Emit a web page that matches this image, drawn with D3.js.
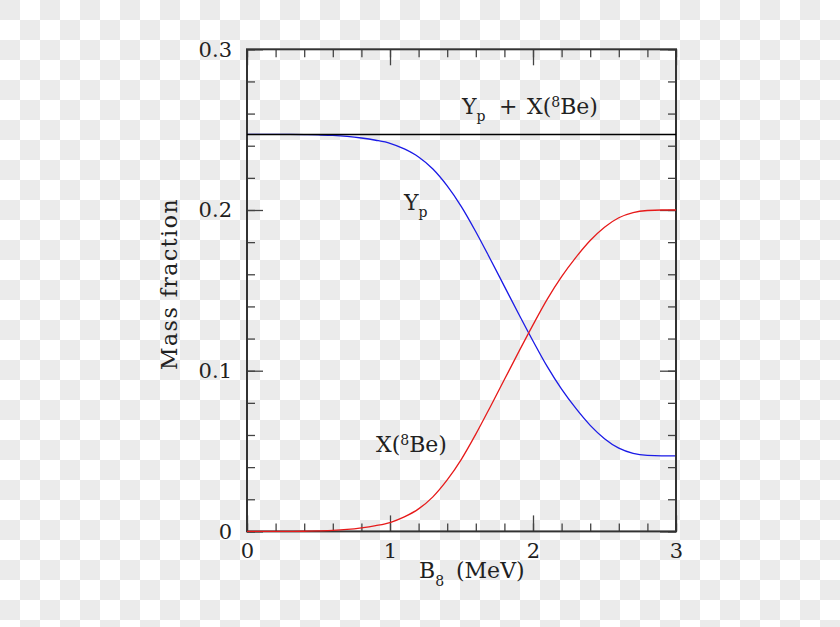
<!DOCTYPE html>
<html>
<head>
  <meta charset="UTF-8">
  <style>
    body {
      margin: 0;
      background-color: #ffffff;
      background-image:
        linear-gradient(45deg, #ebebeb 25%, transparent 25%, transparent 75%, #ebebeb 75%),
        linear-gradient(45deg, #ebebeb 25%, transparent 25%, transparent 75%, #ebebeb 75%);
      background-size: 40px 40px;
      background-position: 20px 0, 0 20px;
    }
    svg { display: block; }
    .lbl {
      font-family: "DejaVu Serif", serif;
      fill: #222;
    }
    .axis path { display: none; }
    .axis line { stroke: #444; stroke-width: 1.3px; }
    .axis text {
      font-family: "DejaVu Serif", serif;
      font-size: 21px;
      fill: #222;
    }
  </style>
</head>
<body>
<svg></svg>
<script src="https://d3js.org/d3.v7.min.js"></script>

<script>

// binding energy of 8Be, MeV
let b8 = [0, 0.1, 0.2, 0.3, 0.4, 0.5, 0.6, 0.7, 0.8, 0.9,
          1.0, 1.1, 1.2, 1.3, 1.4, 1.5, 1.6, 1.7, 1.8, 1.9,
          2.0, 2.1, 2.2, 2.3, 2.4, 2.5, 2.6, 2.7, 2.8, 2.9, 3.0];

// mass fraction of 8Be (red)
let xBe = [0, 0, 0, 0, 0.0001, 0.0003, 0.0006, 0.0012, 0.0022, 0.0036,
           0.0055, 0.0090, 0.0140, 0.0215, 0.0320, 0.0450, 0.0605, 0.0773, 0.0945, 0.1117,
           0.1285, 0.1445, 0.1585, 0.1705, 0.1810, 0.1893, 0.1952, 0.1984, 0.1997, 0.2000, 0.2000];

// helium mass fraction Yp (blue)
let yp = [0.247, 0.247, 0.247, 0.247, 0.2469, 0.2467, 0.2464, 0.2458, 0.2448, 0.2434,
          0.2415, 0.2380, 0.2330, 0.2255, 0.2150, 0.2020, 0.1865, 0.1697, 0.1525, 0.1353,
          0.1185, 0.1025, 0.0885, 0.0765, 0.0660, 0.0577, 0.0518, 0.0486, 0.0473, 0.0470, 0.0470];

// Yp + X(8Be), constant
let ySum = 0.247;

let xTicks = [0, 1, 2, 3];
let yTicks = [0, 0.1, 0.2, 0.3];

let width = 840, height = 627;
let pLeft = 247, pRight = 676, pTop = 49.3, pBottom = 531.4;

let svg = d3.select("svg")
    .attr("width", width)
    .attr("height", height);

let x = d3.scaleLinear().domain([0, 3]).range([pLeft, pRight]);
let y = d3.scaleLinear().domain([0, 0.3]).range([pBottom, pTop]);

let minorX = d3.range(0, 3.0001, 0.2);
let minorY = d3.range(0, 0.30001, 0.02);

// minor ticks, all four sides
svg.append("g").attr("class", "axis")
    .attr("transform", "translate(0," + pBottom + ")")
    .call(d3.axisBottom(x).tickValues(minorX).tickSize(-8).tickSizeOuter(0).tickFormat(""));
svg.append("g").attr("class", "axis")
    .attr("transform", "translate(0," + pTop + ")")
    .call(d3.axisTop(x).tickValues(minorX).tickSize(-8).tickSizeOuter(0).tickFormat(""));
svg.append("g").attr("class", "axis")
    .attr("transform", "translate(" + pLeft + ",0)")
    .call(d3.axisLeft(y).tickValues(minorY).tickSize(-8).tickSizeOuter(0).tickFormat(""));
svg.append("g").attr("class", "axis")
    .attr("transform", "translate(" + pRight + ",0)")
    .call(d3.axisRight(y).tickValues(minorY).tickSize(-8).tickSizeOuter(0).tickFormat(""));

// major ticks with labels
svg.append("g").attr("class", "axis")
    .attr("transform", "translate(0," + pBottom + ")")
    .call(d3.axisBottom(x).tickValues(xTicks).tickSize(-16).tickSizeOuter(0)
        .tickPadding(12).tickFormat(d3.format("d")));
svg.append("g").attr("class", "axis")
    .attr("transform", "translate(0," + pTop + ")")
    .call(d3.axisTop(x).tickValues(xTicks).tickSize(-16).tickSizeOuter(0).tickFormat(""));
svg.append("g").attr("class", "axis")
    .attr("transform", "translate(" + pLeft + ",0)")
    .call(d3.axisLeft(y).tickValues(yTicks).tickSize(-16).tickSizeOuter(0)
        .tickPadding(15).tickFormat(d => d === 0 ? "0" : d3.format(".1f")(d)));
svg.append("g").attr("class", "axis")
    .attr("transform", "translate(" + pRight + ",0)")
    .call(d3.axisRight(y).tickValues(yTicks).tickSize(-16).tickSizeOuter(0).tickFormat(""));

// curves
let pts = (arr) => b8.map((b, i) => [b, arr[i]]);
let line = d3.line()
    .x(d => x(d[0]))
    .y(d => y(d[1]))
    .curve(d3.curveMonotoneX);

svg.append("path")
    .datum(pts(yp))
    .attr("d", line)
    .attr("fill", "none")
    .attr("stroke", "#1a1ae6")
    .attr("stroke-width", 1.3);

// frame
svg.append("rect")
    .attr("x", pLeft).attr("y", pTop)
    .attr("width", pRight - pLeft).attr("height", pBottom - pTop)
    .attr("fill", "none")
    .attr("stroke", "#333")
    .attr("stroke-width", 2);

svg.append("path")
    .datum(pts(xBe))
    .attr("d", line)
    .attr("fill", "none")
    .attr("stroke", "#e61a1a")
    .attr("stroke-width", 1.3);

// sum line
svg.append("line")
    .attr("x1", x(0)).attr("x2", x(3))
    .attr("y1", y(ySum)).attr("y2", y(ySum))
    .attr("stroke", "#000")
    .attr("stroke-width", 1.4);

// labels
let t1 = svg.append("text").attr("class", "lbl")
    .attr("x", 462).attr("y", 114).style("font-size", "22px");
t1.append("tspan").text("Y");
t1.append("tspan").attr("dy", 7).style("font-size", "14px").text("p");
t1.append("tspan").attr("x", 499).attr("dy", -7).text("+");
t1.append("tspan").attr("x", 527).text("X(");
t1.append("tspan").attr("dy", -7).style("font-size", "14px").text("8");
t1.append("tspan").attr("dy", 7).text("Be)");

let t2 = svg.append("text").attr("class", "lbl")
    .attr("x", 404).attr("y", 210).style("font-size", "22px");
t2.append("tspan").text("Y");
t2.append("tspan").attr("dy", 7).style("font-size", "14px").text("p");

let t3 = svg.append("text").attr("class", "lbl")
    .attr("x", 376).attr("y", 452).style("font-size", "22px");
t3.append("tspan").text("X(");
t3.append("tspan").attr("dy", -7).style("font-size", "14px").text("8");
t3.append("tspan").attr("dy", 7).text("Be)");

let t4 = svg.append("text").attr("class", "lbl")
    .attr("x", 419).attr("y", 578).style("font-size", "22px");
t4.append("tspan").text("B");
t4.append("tspan").attr("dy", 8).style("font-size", "14px").text("8");
t4.append("tspan").attr("x", 456).attr("dy", -8).text("(MeV)");

svg.append("text").attr("class", "lbl")
    .attr("transform", "translate(177,284) rotate(-90)")
    .attr("text-anchor", "middle")
    .style("font-size", "22px")
    .style("letter-spacing", "1.5px")
    .text("Mass fraction");

</script>
</body>
</html>
